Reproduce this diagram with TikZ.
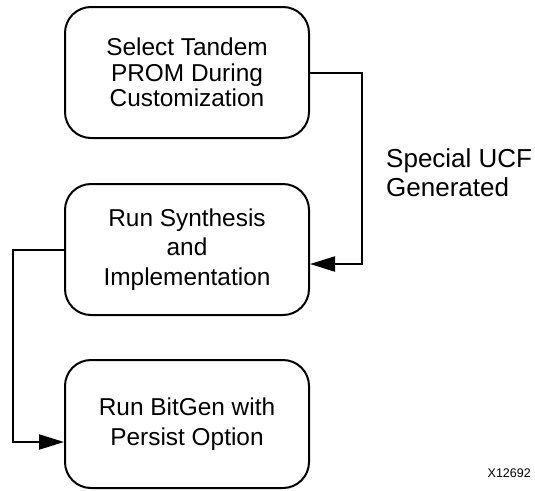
\documentclass[tikz,border=0pt]{standalone}
\usepackage{fontspec}
\setmainfont{Liberation Sans}
\usetikzlibrary{arrows.meta}
\begin{document}
\begin{tikzpicture}[x=1pt,y=-1pt,
  stepbox/.style={draw,line width=2pt,rounded corners=26pt,minimum width=244pt,align=center,inner sep=0pt},
  conn/.style={line width=2pt,-{Triangle[length=25pt,width=15pt]}},
  lbl/.style={align=left,inner sep=0pt,anchor=north west}]
\useasboundingbox (0,0) rectangle (535,490);
\node[stepbox,minimum height=131pt,font=\fontsize{24.4}{25.7}\selectfont] (a) at (187,72.5) {Select Tandem\\PROM During\\Customization};
\node[stepbox,minimum height=131pt,font=\fontsize{24.4}{29.5}\selectfont] (b) at (187,249.5) {Run Synthesis\\and\\Implementation};
\node[stepbox,minimum height=128pt,font=\fontsize{24.4}{29.5}\selectfont] (c) at (187,424) {Run BitGen with\\Persist Option};
\coordinate (r1) at (362,72.5);
\coordinate (r2) at (362,264);
\coordinate (l1) at (13,249.5);
\coordinate (l2) at (13,442);
\draw[conn] (a.east) -- (r1) -- (r2) -- (r2 -| b.east);
\draw[conn] (b.west) -- (l1) -- (l2) -- (l2 -| c.west);
\node[lbl,font=\fontsize{26}{29}\selectfont] (t) at (386,148) {Special UCF\\Generated};
\node[anchor=south east,inner sep=0pt,font=\fontsize{12.5}{14}\selectfont] (x) at (531,478) {X12692};
\end{tikzpicture}
\end{document}
